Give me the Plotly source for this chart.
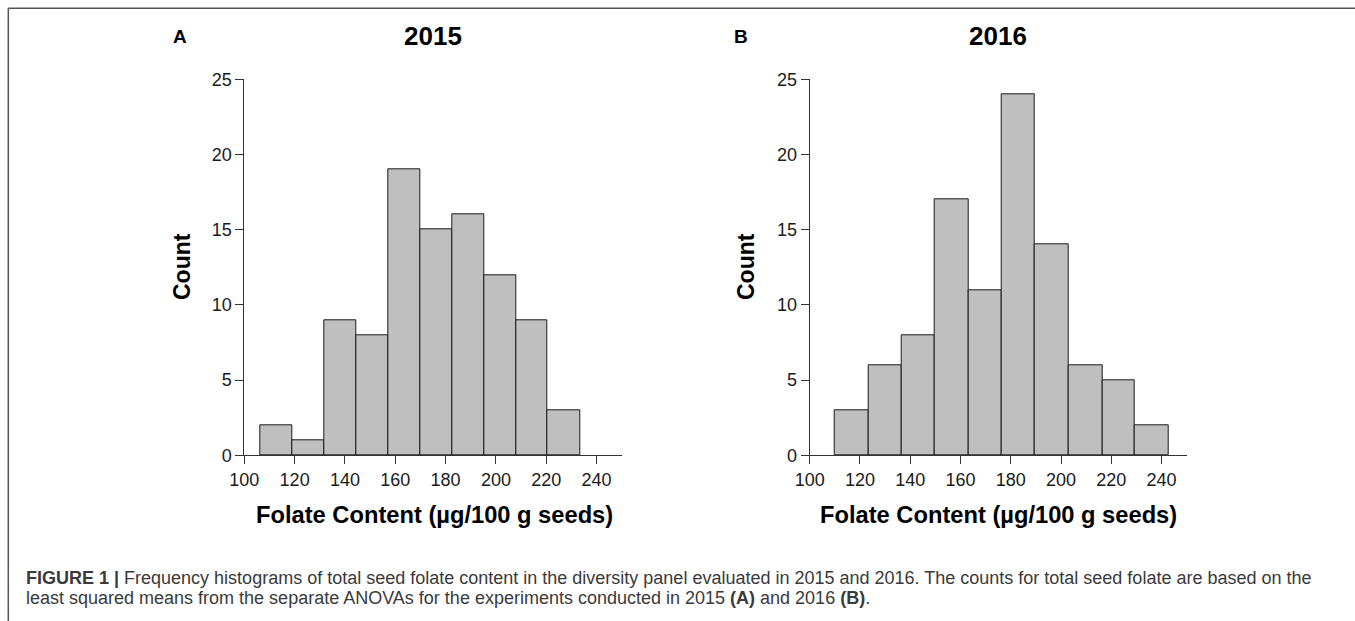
import plotly.graph_objects as go

# ---- data ----
edges_2015 = [106.4, 119.2, 131.8, 144.6, 157.3, 170.1, 182.8, 195.4, 208.0, 220.6, 233.4]
counts_2015 = [2, 1, 9, 8, 19, 15, 16, 12, 9, 3]
edges_2016 = [110.1, 123.4, 136.5, 149.8, 163.2, 176.4, 189.7, 203.1, 216.4, 229.5, 242.8]
counts_2016 = [3, 6, 8, 17, 11, 24, 14, 6, 5, 2]
x_ticks = [100, 120, 140, 160, 180, 200, 220, 240]
y_ticks = [0, 5, 10, 15, 20, 25]
panel_titles = ["2015", "2016"]
panel_letters = ["A", "B"]
x_title = "Folate Content (µg/100 g seeds)"
y_title = "Count"
caption_1 = ("<b>FIGURE 1 |</b> Frequency histograms of total seed folate content in the diversity panel "
             "evaluated in 2015 and 2016. The counts for total seed folate are based on the")
caption_2 = ("least squared means from the separate ANOVAs for the experiments conducted in 2015 "
             "<b>(A)</b> and 2016 <b>(B)</b>.")

W, H = 1355, 621
FONT = "Liberation Sans, Arial, sans-serif"


def px(x):
    return x / W


def py(y):
    return 1 - y / H


def mids(e):
    return [(e[i] + e[i + 1]) / 2 for i in range(len(e) - 1)]


def widths(e):
    return [e[i + 1] - e[i] for i in range(len(e) - 1)]


fig = go.Figure()
fig.add_trace(go.Bar(x=mids(edges_2015), y=counts_2015, width=widths(edges_2015),
                     marker=dict(color="#bfbfbf", line=dict(color="#1a1a1a", width=1)),
                     xaxis="x", yaxis="y", showlegend=False))
fig.add_trace(go.Bar(x=mids(edges_2016), y=counts_2016, width=widths(edges_2016),
                     marker=dict(color="#bfbfbf", line=dict(color="#1a1a1a", width=1)),
                     xaxis="x2", yaxis="y2", showlegend=False))

ydom = [py(455.3), py(79.3)]
ax_common = dict(showgrid=False, zeroline=False, showline=True, linecolor="#333333", linewidth=1,
                 ticks="outside", ticklen=8, tickcolor="#333333", tickwidth=1, automargin=False,
                 tickfont=dict(family=FONT, size=18, color="#1a1a1a"))

fig.update_layout(
    width=W, height=H, margin=dict(l=0, r=0, t=0, b=0, pad=0, autoexpand=False),
    paper_bgcolor="white", plot_bgcolor="white", bargap=0,
    xaxis=dict(domain=[px(244.3), px(621.7)], range=[100, 250], tickvals=x_ticks,
               anchor="y", **ax_common),
    yaxis=dict(domain=ydom, range=[0, 25], tickvals=y_ticks, anchor="x", **ax_common),
    xaxis2=dict(domain=[px(809.7), px(1186.7)], range=[100, 250], tickvals=x_ticks,
                anchor="y2", **ax_common),
    yaxis2=dict(domain=ydom, range=[0, 25], tickvals=y_ticks, anchor="x2", **ax_common),
)

ann = []
for letter, lx in zip(panel_letters, [180, 741]):
    ann.append(dict(x=px(lx), y=py(36), text=f"<b>{letter}</b>", showarrow=False,
                    xref="paper", yref="paper", xanchor="center", yanchor="middle",
                    font=dict(family=FONT, size=19, color="black")))
for title, tx in zip(panel_titles, [433, 998]):
    ann.append(dict(x=px(tx), y=py(36), text=f"<b>{title}</b>", showarrow=False,
                    xref="paper", yref="paper", xanchor="center", yanchor="middle",
                    font=dict(family=FONT, size=26, color="black")))
for cx in [434, 998]:
    ann.append(dict(x=px(cx), y=py(515), text=f"<b>{x_title}</b>", showarrow=False,
                    xref="paper", yref="paper", xanchor="center", yanchor="middle",
                    font=dict(family=FONT, size=23.7, color="black")))
for cx in [182, 746]:
    ann.append(dict(x=px(cx), y=py(267), text=f"<b>{y_title}</b>", showarrow=False, textangle=-90,
                    xref="paper", yref="paper", xanchor="center", yanchor="middle",
                    font=dict(family=FONT, size=23, color="black")))
for txt, cy in [(caption_1, 578), (caption_2, 598)]:
    ann.append(dict(x=px(24), y=py(cy), text=txt, showarrow=False,
                    xref="paper", yref="paper", xanchor="left", yanchor="middle",
                    font=dict(family=FONT, size=18, color="#3a3a3a")))
fig.update_layout(annotations=ann)

# frame: top and left border lines
fig.add_shape(type="line", xref="paper", yref="paper", x0=px(8.3), y0=py(8.3), x1=1, y1=py(8.3),
              line=dict(color="#555555", width=1.5))
fig.add_shape(type="line", xref="paper", yref="paper", x0=px(8.3), y0=py(8.3), x1=px(8.3), y1=0,
              line=dict(color="#555555", width=1.5))

fig.write_html("out.html",
               config={"displayModeBar": False, "staticPlot": False},
               post_script="document.body.style.margin='0px';"
                           "document.documentElement.style.overflow='hidden';"
                           "document.body.style.overflow='hidden';")
